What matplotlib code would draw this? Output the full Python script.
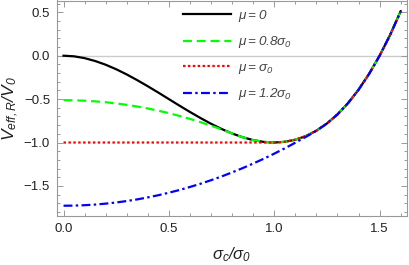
import numpy as np
import matplotlib
matplotlib.use("Agg")
import matplotlib.pyplot as plt
from matplotlib.ticker import MultipleLocator

plt.rcParams['font.family'] = ['Liberation Sans', 'DejaVu Sans']
plt.rcParams['mathtext.fontset'] = 'custom'
plt.rcParams['mathtext.rm'] = 'Liberation Sans:italic'
plt.rcParams['mathtext.it'] = 'Liberation Sans:italic'
plt.rcParams['mathtext.bf'] = 'Liberation Sans:bold'

# sigma_c / sigma_0 sample points
x = [0.00, 0.05, 0.10, 0.15, 0.20, 0.25, 0.30, 0.35, 0.40, 0.45, 0.50,
     0.55, 0.60, 0.65, 0.70, 0.75, 0.80, 0.85, 0.90, 0.95, 1.00,
     1.05, 1.10, 1.15, 1.20, 1.25, 1.30, 1.35, 1.40, 1.45, 1.50, 1.55, 1.60]

# V_eff,R / V_0
v_mu0 = [0.000, -0.007, -0.028, -0.061, -0.104, -0.156, -0.216, -0.282, -0.352, -0.425, -0.500,
         -0.575, -0.648, -0.718, -0.784, -0.844, -0.896, -0.939, -0.972, -0.993, -1.000,
         -0.992, -0.968, -0.926, -0.864, -0.781, -0.676, -0.547, -0.392, -0.210, 0.000, 0.240, 0.512]
v_mu08 = [-0.512, -0.514, -0.518, -0.526, -0.536, -0.550, -0.566, -0.586, -0.608, -0.634, -0.662,
          -0.694, -0.728, -0.766, -0.806, -0.850, -0.896, -0.939, -0.972, -0.993, -1.000,
          -0.992, -0.968, -0.926, -0.864, -0.781, -0.676, -0.547, -0.392, -0.210, 0.000, 0.240, 0.512]
v_mu10 = [-1.000, -1.000, -1.000, -1.000, -1.000, -1.000, -1.000, -1.000, -1.000, -1.000, -1.000,
          -1.000, -1.000, -1.000, -1.000, -1.000, -1.000, -1.000, -1.000, -1.000, -1.000,
          -0.992, -0.968, -0.926, -0.864, -0.781, -0.676, -0.547, -0.392, -0.210, 0.000, 0.240, 0.512]
v_mu12 = [-1.728, -1.727, -1.722, -1.715, -1.704, -1.691, -1.674, -1.655, -1.632, -1.607, -1.578,
          -1.547, -1.512, -1.475, -1.434, -1.391, -1.344, -1.295, -1.242, -1.187, -1.128,
          -1.067, -1.002, -0.935, -0.864, -0.781, -0.676, -0.547, -0.392, -0.210, 0.000, 0.240, 0.512]

labels = [r"$\mu{=}0$", r"$\mu{=}0.8\sigma_0$", r"$\mu{=}\sigma_0$", r"$\mu{=}1.2\sigma_0$"]

fig = plt.figure(figsize=(4.09, 2.65), dpi=100)
ax = fig.add_axes([57 / 409, 1 - 215.7 / 265, 350 / 409, 215.2 / 265])

frame_col = "#999999"
ax.axhline(0, color="#cccccc", lw=1.0, zorder=0)

ax.plot(x, v_mu0, color="black", lw=1.6, label=labels[0])
ax.plot(x, v_mu08, color="#00ff00", lw=1.6, ls=(0, (4, 2.2)), label=labels[1])
ax.plot(x, v_mu10, color="#ff0000", lw=1.6, ls=(0, (1.1, 1.1)), label=labels[2])
ax.plot(x, v_mu12, color="#0000ff", lw=1.6, ls=(0, (4, 1.5, 1.1, 1.5)), label=labels[3])

ax.set_xlim(-0.031, 1.63)
ax.set_ylim(-1.843, 0.636)

ax.xaxis.set_major_locator(MultipleLocator(0.5))
ax.xaxis.set_minor_locator(MultipleLocator(0.1))
ax.yaxis.set_major_locator(MultipleLocator(0.5))
ax.yaxis.set_minor_locator(MultipleLocator(0.1))
ax.xaxis.set_major_formatter(matplotlib.ticker.FormatStrFormatter('%.1f'))
ax.yaxis.set_major_formatter(matplotlib.ticker.FuncFormatter(
    lambda v, p: ("\u2212%.1f" % abs(v)) if v < -1e-9 else "%.1f" % abs(v)))

for s in ax.spines.values():
    s.set_color(frame_col)
    s.set_linewidth(0.8)
ax.tick_params(which='both', direction='in', top=True, right=True, color=frame_col,
               labelsize=9.5, labelcolor="#222222", width=0.7)
ax.tick_params(which='major', length=4, pad=5)
ax.tick_params(which='minor', length=2)

ax.set_xlabel(r"$\sigma_c/\sigma_0$", fontsize=12, color="#222222", labelpad=8)
ax.set_ylabel(r"$V_{eff,R}/V_0$", fontsize=12.5, color="#222222", labelpad=2)

leg = ax.legend(loc='upper left', bbox_to_anchor=(0.36, 0.967), frameon=False,
                fontsize=9.7, handlelength=3.55, handletextpad=0.5, labelspacing=0.8,
                borderpad=0, borderaxespad=0)
for t in leg.get_texts():
    t.set_color("#444444")

fig.savefig("out.png", dpi=100)
